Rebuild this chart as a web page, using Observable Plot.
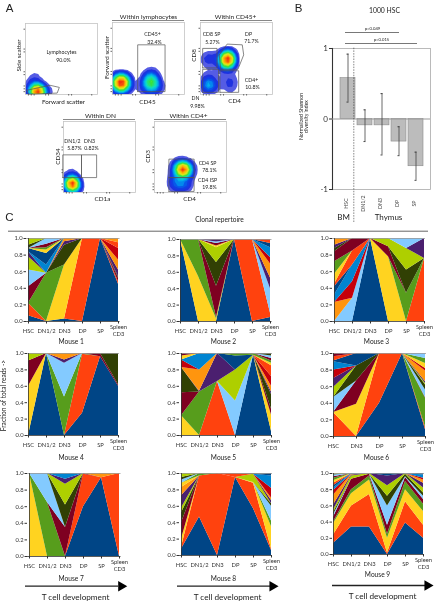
<!DOCTYPE html>
<html><head><meta charset="utf-8">
<script src="https://cdn.jsdelivr.net/npm/d3@7"></script>
<script src="https://cdn.jsdelivr.net/npm/@observablehq/plot@0.6"></script>
<style>
html,body{margin:0;padding:0;background:#fff}
#page{position:relative;width:434px;height:602px;overflow:hidden;background:#fff;filter:blur(.3px)}
#page>svg,#page>figure{position:absolute;margin:0}
</style></head><body><div id="page"></div>
<script>
/* ---------- Panel C data: fraction of reads per clone per stage ---------- */
const stages = ["HSC","DN1/2","DN3","DP","SP","Spleen\nCD3"];
const stagesNoDN12 = ["HSC","DN3","DP","SP","Spleen\nCD3"];
const mouse1 = {0:[.07,0,.03,0,1,.45],1:[.15,0,0,1,0,.03],2:[0,0,.65,0,0,0],3:[0,.58,0,0,0,0],4:[.2,0,0,0,0,.04],5:[.2,0,0,0,0,0],6:[0,0,.24,0,0,.02],7:[.16,0,0,0,0,0],8:[.06,0,.04,0,0,.08],9:[0,0,.04,0,0,.12],10:[0,0,0,0,0,.14],11:[0,.1,0,0,0,0],12:[.04,.14,0,0,0,0],13:[0,0,0,0,0,.07],14:[0,.04,0,0,0,0],15:[0,.03,0,0,0,0],16:[0,.04,0,0,0,0],17:[0,.07,0,0,0,0],18:[.04,0,0,0,0,0],19:[.08,0,0,0,0,0],21:[0,0,0,0,0,.05]};
const mouse2 = {0:[1,0,0,1,0,.05],1:[0,0,0,0,1,.05],2:[0,.55,.03,0,0,0],3:[0,.45,.02,0,0,0],4:[0,0,.38,0,0,0],5:[0,0,0,0,0,.3],6:[0,0,.29,0,0,0],7:[0,0,.18,0,0,0],8:[0,0,0,0,0,.13],9:[0,0,0,0,0,.17],10:[0,0,0,0,0,.08],11:[0,0,0,0,0,.12],12:[0,0,0,0,0,.05],13:[0,0,0,0,0,.05],14:[0,0,.02,0,0,0],16:[0,0,.03,0,0,0],17:[0,0,.02,0,0,0],20:[0,0,.03,0,0,0]};
const mouse3 = {0:[0,0,1,0,0,0],1:[0,0,0,0,0,.76],2:[0,0,0,.78,0,0],3:[0,0,0,0,.34,0],4:[0,0,0,.12,0,0],5:[0,.28,0,0,0,0],6:[0,0,0,0,.28,0],7:[0,0,0,.1,.26,0],8:[0,0,0,0,0,.24],9:[.23,0,0,0,0,0],10:[0,.2,0,0,0,0],11:[.09,.2,0,0,0,0],12:[.1,0,0,0,0,0],13:[.03,.17,0,0,0,0],14:[.12,0,0,0,0,0],15:[.15,0,0,0,0,0],16:[.12,.15,0,0,0,0],17:[0,0,0,0,.12,0],18:[.04,0,0,0,0,0],20:[.04,0,0,0,0,0],21:[.08,0,0,0,0,0]};
const mouse4 = {0:[0,1,0,.27,.96,.6],1:[0,0,0,.72,0,0],2:[.6,0,0,0,0,0],3:[0,0,.47,.01,0,0],4:[.31,0,0,0,.04,.02],5:[0,0,.41,0,0,0],6:[0,0,0,0,0,.38],7:[.09,0,0,0,0,0],8:[0,0,.04,0,0,0],9:[0,0,.08,0,0,0]};
const mouse5 = {0:[0,0,0,0,.98,.05],1:[0,0,.66,0,0,0],2:[.24,0,0,0,0,.2],3:[0,.53,0,0,0,0],4:[.28,0,0,0,0,.07],5:[0,0,0,.42,0,0],6:[.31,0,0,0,0,.18],7:[0,0,0,.38,0,0],8:[0,.01,.34,0,0,.03],9:[0,.26,0,0,0,.07],10:[.09,0,0,0,0,.12],11:[0,.2,0,0,0,0],12:[0,0,0,.17,0,0],13:[0,0,0,0,0,.13],14:[.05,0,0,0,0,.03],15:[0,0,0,.03,.02,.03],16:[.03,0,0,0,0,.03],17:[0,0,0,0,0,.03],18:[0,0,0,0,0,.03]};
const mouse6 = {0:[0,0,.4,1,.08],1:[.29,0,.6,0,.03],2:[0,.39,0,0,0],3:[0,0,0,0,.35],4:[0,.28,0,0,.01],5:[.18,0,0,0,.09],6:[0,.18,0,0,.06],7:[.12,0,0,0,.02],8:[.11,0,0,0,.02],9:[0,0,0,0,.13],10:[.1,0,0,0,.03],11:[.1,0,0,0,0],12:[.01,.15,0,0,0],13:[.05,0,0,0,0],14:[0,0,0,0,.06],15:[0,0,0,0,.06],16:[.04,0,0,0,0],17:[0,0,0,0,.06]};
const mouse7 = {0:[0,0,0,.6,.95,0],1:[0,0,0,.39,0,1],2:[1,0,0,0,0,0],3:[0,.65,0,0,0,0],4:[0,0,.35,.01,0,0],5:[0,.35,0,0,0,0],6:[0,0,.27,0,0,0],7:[0,0,.25,0,0,0],8:[0,0,.06,0,0,0],9:[0,0,0,0,.05,0],11:[0,0,.07,0,0,0]};
const mouse8 = {0:[.08,.47,0,.95,.57,.06],1:[.02,.5,1,0,.31,.02],2:[.1,0,0,0,.01,.27],3:[0,0,0,0,0,.07],4:[.2,0,0,0,0,0],5:[0,0,0,0,0,.18],6:[.12,0,0,0,0,.03],7:[.06,0,0,0,.1,0],8:[.15,0,0,0,0,.04],9:[.1,0,0,0,0,.03],10:[0,0,0,0,0,.12],11:[0,0,0,0,0,.15],12:[0,0,0,0,0,.03],13:[0,0,0,.05,0,0],14:[.05,0,0,0,0,0],15:[0,.03,0,0,0,0],17:[.04,0,0,0,0,0],18:[.03,0,0,0,.01,0],19:[.05,0,0,0,0,0]};
const mouse9 = {0:[.14,.34,.34,0,.39,.2],1:[.1,.26,.4,.02,.26,.16],2:[.14,.15,.18,.18,.15,.17],3:[.02,.05,.05,.05,.1,.09],4:[.06,.13,.02,.11,.05,.06],5:[.03,0,0,.24,.01,.04],6:[.03,0,0,.12,.03,.04],7:[.03,.04,.01,.13,.01,.06],8:[.06,.01,0,.12,0,.06],9:[.12,.01,0,0,0,.04],10:[.06,0,0,0,0,.02],11:[.03,.01,0,0,0,.04],12:[.03,0,0,.03,0,.02],13:[.03,0,0,0,0,0],14:[.03,0,0,0,0,0],15:[.03,0,0,0,0,0],16:[.02,0,0,0,0,0],17:[.02,0,0,0,0,0],18:[.01,0,0,0,0,0],19:[.01,0,0,0,0,0]};
const repertoireTicks = [0,.2,.4,.6,.8,1];

/* ---------- Panel B data ---------- */
const bStages = ["HSC","DN1/2","DN3","DP","SP"];
const bMeans = [.58,-.09,-.09,-.32,-.67];
const bHigh  = [.92,.13,.36,-.11,-.47];
const bLow   = [.24,-.32,-.51,-.52,-.87];

/* ---------- Panel A data: density anchors [x, y, weight] on 0-100 scales ---------- */
const lymphCells = [[16,5,10],[23,5,3],[10,6,2],[30,5,.7],[38,5,.12],[9,13,1],[14,14,.7],[11,22,.45],[16,24,.2],[12,33,.15],[18,34,.1],[13,44,.05],[19,44,.03],[11,55,.02],[14,62,.01],[24,30,.02]];
const cd45Cells = [[12,16,36],[53,21,9],[48,19,1.2],[56,12,5],[49,11,3],[62,11,2.4],[42,9,.4],[34,8,.25],[26,8,.15],[57,30,.4],[52,35,.18],[60,40,.05],[53,48,.02],[25,30,.008]];
const thymoCells = [[37,49,30],[44,47,2],[33,41,2.5],[44,56,.5],[12,50,3],[7,47,.8],[18,52,.6],[12,14,7],[11,24,2],[12,5,1.6],[14,32,.3],[40,26,1.6],[38,14,1.2],[42,6,1],[44,20,.9],[30,20,.25],[48,12,.2],[25,45,.4]];
const dnCells = [[11,12,18],[6,11,3.5],[16,11,5],[22,10,1.2],[30,11,.3],[37,9,.07],[10,22,.5],[5,25,.3],[12,30,.3],[17,27,.18],[8,35,.18],[14,38,.12],[9,46,.07],[19,38,.06],[4,18,.4]];
const cd4Cells = [[40,35,14],[37,28,4],[45,29,2.6],[32,38,1.4],[47,40,.9],[35,13,4],[27,13,1.6],[42,12,1.8],[48,17,.6],[27,30,.8],[52,26,.35],[24,7,.25],[50,7,.25],[30,42,.5],[26,20,.5]];

/* Gate rings, on the same 0-100 scales */
const lymphGates = [[[2,6],[34,13],[47,10],[44,2],[4,.5],[2,6]]];
const cd45Gates = [[[35,4],[73,4],[73,69],[35,69],[35,4]]];
const thymoGates = [
  [[3,37],[23,37],[23,64],[3,64],[3,37]],
  [[3,3],[25,3],[25,35],[3,35],[3,3]],
  [[27,3],[53,3],[53,33],[27,33],[27,3]],
  [[26,55],[37,70],[58,69],[60,55],[52,35],[28,35],[26,55]]
];
const dnGates = [
  [[-1,21],[25,21],[25,53],[-1,53],[-1,21]],
  [[25,21],[46,21],[46,53],[25,53],[25,21]]
];
const cd4Gates = [
  [[20,21],[55,21],[55,47],[20,47],[20,21]],
  [[20,1.5],[55,1.5],[55,21],[20,21],[20,1.5]]
];

/* ---------- Styling ---------- */
const palette = ["#004586","#ff420e","#ffd320","#579d1c","#7e0021","#83caff","#314004","#aecf00","#4b1f6f","#ff950e","#c5000b","#0084d1"];
const cloneColors = palette.concat(palette);
const heatStops = ["#ffffff","#dedef4","#5a60e4","#1c2fe0","#0a48e8","#00a8f0","#10e0c0","#38e038","#d8f020","#ffb000","#f03010"];
const heat = d3.piecewise(d3.interpolateRgb, heatStops);
const FONT = "Lato, 'Liberation Sans', sans-serif";
const page = document.getElementById("page");

function place(svg, left, top){
  svg.style.left = left+"px"; svg.style.top = top+"px";
  page.appendChild(svg);
}
const baseStyle = {background:"transparent",overflow:"visible",fontFamily:FONT};

function repertoire(stageList, rows, box){
  const flat = [];
  for (const id of Object.keys(rows)) rows[id].forEach((v,i)=>flat.push({stage:stageList[i],clone:+id,v}));
  const ml=16, mr=10, mt=2, mb=22;
  const svg = Plot.plot({
    width:box.w+ml+mr, height:box.h+mt+mb, marginLeft:ml, marginRight:mr, marginTop:mt, marginBottom:mb,
    style:{...baseStyle,color:"#333"},
    x:{type:"point",domain:stageList,padding:0,axis:null},
    y:{domain:[0,1],axis:null},
    color:{type:"ordinal",domain:d3.range(24),range:cloneColors},
    marks:[
      Plot.areaY(flat,{x:"stage",y:"v",z:"clone",fill:"clone",offset:"normalize"}),
      Plot.ruleY([1],{stroke:"#999",strokeWidth:.8}),
      Plot.axisX({tickSize:2.5,tickFormat:()=>"",label:null,stroke:"#333"}),
      Plot.text(stageList,{x:d=>d,frameAnchor:"bottom",dy:9,lineAnchor:"middle",lineHeight:1.14,fontSize:5.8,fill:"#333"}),
      Plot.axisY({ticks:repertoireTicks,tickFormat:".1f",tickSize:2.5,tickPadding:1.5,fontSize:5.8,label:null,stroke:"#333"}),
      Plot.ruleY([0],{stroke:"#333",strokeWidth:.8}),
      Plot.ruleX([stageList[0]],{stroke:"#333",strokeWidth:.8})
    ]
  });
  place(svg, box.x-ml, box.y-mt);
}
repertoire(stages,mouse1,{x:26,y:238,w:93.5,h:83});
repertoire(stages,mouse2,{x:179,y:239,w:92.5,h:82});
repertoire(stages,mouse3,{x:332,y:238,w:93,h:83});
repertoire(stages,mouse4,{x:26.5,y:353,w:92,h:82});
repertoire(stages,mouse5,{x:179,y:353,w:93,h:82});
repertoire(stagesNoDN12,mouse6,{x:332,y:353,w:94,h:83});
repertoire(stages,mouse7,{x:26.5,y:473,w:93.5,h:83});
repertoire(stages,mouse8,{x:179,y:473,w:93,h:82});
repertoire(stages,mouse9,{x:332,y:473,w:92,h:81});

function flow(cells, gates, box, bw){
  const m=4;
  const rings = gates.flatMap((r,i)=>r.map(p=>({x:p[0],y:p[1],g:i})));
  const pts = cells.map(c=>({x:c[0],y:c[1],w:c[2]}));
  const svg = Plot.plot({
    width:box.w+2*m, height:box.h+2*m, margin:m,
    style:baseStyle,
    x:{domain:[0,100],axis:null}, y:{domain:[0,100],axis:null},
    color:{type:"sqrt",interpolate:heat},
    marks:[
      Plot.density(pts,{x:"x",y:"y",weight:"w",fill:"density",bandwidth:bw,thresholds:24,clip:true}),
      Plot.frame({stroke:"#c4c4c4",strokeWidth:.8}),
      Plot.axisX({ticks:[4,8,12,28,32,60,64,92],tickFormat:()=>"",tickSize:1.5,label:null,stroke:"#666"}),
      Plot.axisY({ticks:[4,8,12,28,32,60,64,92],tickFormat:()=>"",tickSize:1.5,label:null,stroke:"#666"}),
      Plot.line(rings,{x:"x",y:"y",z:"g",stroke:"#555",strokeWidth:.7})
    ]
  });
  place(svg, box.x-m, box.y-m);
}
flow(lymphCells,lymphGates,{x:25,y:23,w:72,h:71},2.2);
flow(cd45Cells,cd45Gates,{x:112,y:22,w:72,h:72},2.8);
flow(thymoCells,thymoGates,{x:200,y:22,w:72,h:72},2.6);
flow(dnCells,dnGates,{x:63,y:121,w:72,h:71},2);
flow(cd4Cells,cd4Gates,{x:154,y:121,w:72,h:71},2.4);

/* Panel B */
(function(){
  const ml=12, mr=4, mt=0, mb=26, w=98, h=141;
  const rows = bStages.map((s,i)=>({s,m:bMeans[i],hi:bHigh[i],lo:bLow[i]}));
  const svg = Plot.plot({
    width:w+ml+mr, height:h+mt+mb, marginLeft:ml, marginRight:mr, marginTop:mt, marginBottom:mb,
    style:{...baseStyle,color:"#333"},
    x:{type:"band",domain:bStages,range:[ml+4.4,ml+94.4],padding:.13,axis:null},
    y:{domain:[-1,1],axis:null},
    marks:[
      Plot.frame({stroke:"#aaa",strokeWidth:.8}),
      Plot.frame({anchor:"left",stroke:"#333",strokeWidth:1.1}),
      Plot.barY(rows,{x:"s",y:"m",fill:"#bcbcbc",stroke:"#8a8a8a",strokeWidth:.6}),
      Plot.ruleY([0],{stroke:"#999",strokeWidth:1.2}),
      Plot.ruleX(rows,{x:"s",y1:"lo",y2:"hi",stroke:"#444",strokeWidth:.8}),
      Plot.tickY(rows,{x:"s",y:"hi",stroke:"#333",strokeWidth:.9,insetLeft:6.5,insetRight:6.5}),
      Plot.tickY(rows,{x:"s",y:"lo",stroke:"#333",strokeWidth:.9,insetLeft:6.5,insetRight:6.5}),
      Plot.axisY({ticks:[-1,0,1],tickFormat:d=>String(d),tickSize:3,tickPadding:1.5,fontSize:8,label:null,stroke:"#333"}),
      Plot.text(bStages,{x:d=>d,frameAnchor:"bottom",dy:14,rotate:-90,fontSize:5.2,fill:"#444"}),
    ]
  });
  place(svg, 331.7-ml, 47.7-mt);
})();

/* Page annotations: text, header rules, arrows */
const headerRules = [
  {x1:112,x2:184,y:20,c:"#888",w:1.2},{x1:200,x2:272,y:20,c:"#888",w:1.2},
  {x1:63,x2:135,y:119,c:"#888",w:1.2},{x1:154,x2:226,y:119,c:"#888",w:1.2},
  {x1:345,x2:399,y:32,c:"#555",w:.8},{x1:345,x2:417,y:43,c:"#555",w:.8},
  {x1:8,x2:428,y:230.7,c:"#666",w:1},
  {x1:25,x2:118,y:585.7,c:"#222",w:1.3},{x1:177,x2:270,y:585.7,c:"#222",w:1.3},{x1:332,x2:425,y:585,c:"#222",w:1.3}
];
const arrowHeads = [{x:120.7,y:585.7},{x:272,y:585.7},{x:427,y:585}];
const panelLetters = [["A",9,8],["B",298,8],["C",9,217]];
const labels = [
  ["Lymphocytes",61,52,5.2],["90.0%",63,60,5.2],["Forward scatter",63,101,6.3],
  ["Within lymphocytes",148,16.5,6.5],["CD45+",152,34,5.2],["32.4%",154,42,5.2],["CD45",147,101,6.3],
  ["Within CD45+",235,16.5,6.5],["CD8 SP",211,34,5.2],["5.27%",212,42,5.2],["DP",248,34,5.2],["71.7%",251,41,5.2],
  ["CD4+",251,80,5.2],["10.8%",252,87,5.2],["DN",195,98,5.2],["9.98%",197,106,5.2],["CD4",234,100,6.3],
  ["Within DN",100,115,6.5],["DN1/2",72,141,5.2],["5.87%",74,148,5.2],["DN3",89,141,5.2],["0.82%",91,148,5.2],["CD1a",102,198,6.3],
  ["Within CD4+",188,115,6.5],["CD4 SP",207,163,5.2],["78.1%",209,170,5.2],["CD4 ISP",207,180,5.2],["19.8%",209,187,5.2],["CD4",189,198,6.3],
  ["1000 HSC",384,10.5,6.8],["p=0.049",372,28,4.2],["p=0.015",381,39,4.2],["BM",343,217,8],["Thymus",388,217,8],
  ["Clonal repertoire",219,219.5,6.6],
  ["Mouse 1",70.7,341,6.6],["Mouse 2",223,341,6.6],["Mouse 3",376,341,6.6],
  ["Mouse 4",70.7,457,6.6],["Mouse 5",223,457,6.6],["Mouse 6",376,457,6.6],
  ["Mouse 7",70.7,578,6.6],["Mouse 8",223,578,6.6],["Mouse 9",377,574,6.6],
  ["T cell development",75,597,8.2],["T cell development",227,597,8.2],["T cell development",382,596,8.2]
];
const rotatedLabels = [
  ["Side scatter",18,55,6.3],["Forward scatter",106,57,6.3],["CD8",193,55,6.3],["CD34",57,156,6.3],["CD3",147,156,6.3],
  ["Normalized Shannon\ndiversity index",303,116,5.2],["Fraction of total reads ->",3.5,395,6.6]
];
const overlay = Plot.plot({
  width:434,height:602,margin:0,style:baseStyle,
  x:{domain:[0,434],axis:null},y:{domain:[602,0],axis:null},
  marks:[
    Plot.ruleY(headerRules,{x1:"x1",x2:"x2",y:"y",stroke:"c",strokeWidth:"w"}),
    Plot.ruleX([353.3],{y1:47.7,y2:222,stroke:"#333",strokeWidth:.6,strokeDasharray:"1.5,1.2"}),
    Plot.dot(arrowHeads,{x:"x",y:"y",symbol:"triangle",r:3.9,rotate:90,fill:"#000",stroke:"none"}),
    Plot.text(panelLetters,{x:d=>d[1],y:d=>d[2],text:d=>d[0],fontSize:11.5,fontFamily:"'Liberation Sans', Arial, sans-serif",fill:"#222"}),
    Plot.text(labels,{x:d=>d[1],y:d=>d[2],text:d=>d[0],fontSize:d=>d[3],fill:"#222"}),
    Plot.text(rotatedLabels,{x:d=>d[1],y:d=>d[2],text:d=>d[0],fontSize:d=>d[3],rotate:-90,fill:"#222"})
  ]
});
place(overlay,0,0);
</script></body></html>
